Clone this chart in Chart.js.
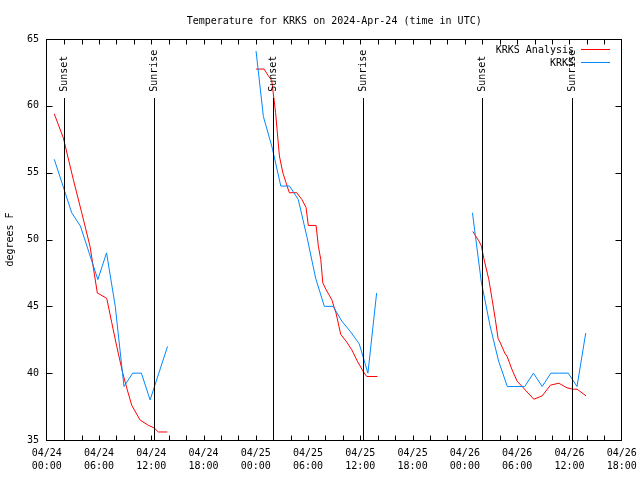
<!DOCTYPE html>
<html>
<head>
<meta charset="utf-8">
<script src="https://cdn.jsdelivr.net/npm/chart.js@4/dist/chart.umd.min.js"></script>
<style>
  html, body { margin: 0; padding: 0; background: #fff; }
  canvas { display: block; }
</style>
</head>
<body>
<canvas id="c" width="640" height="480"></canvas>
<script>
// ---- data (hours since 2024-04-24 00:00 UTC) ----
const redTimes = [0.87, 1.91, 3.05, 4.02, 4.97, 5.81, 6.89, 7.46, 8.04, 8.73, 9.25, 9.76, 10.71, 11.66, 12.35, 12.81, 13.85,
  19,
  24.03, 24.95, 25.44, 25.83, 26.27, 26.71, 27.10, 27.47, 27.85, 28.70, 29.28, 29.77, 30.03, 30.92, 31.18, 31.46, 31.69, 32.07, 32.72, 33.21, 33.75, 34.36, 35.02, 35.66, 36.35, 36.74, 37.96,
  43,
  48.91, 49.60, 49.90, 50.17, 50.75, 51.13, 51.50, 51.81, 52.08, 52.58, 52.85, 53.42, 54.00, 54.57, 55.91, 56.87, 57.82, 58.78, 59.73, 60.42, 60.88, 61.91];
const redValues = [59.4, 57.6, 54.5, 52.0, 49.5, 46.0, 45.6, 43.8, 42.0, 40.0, 38.75, 37.6, 36.5, 36.1, 35.9, 35.6, 35.6,
  null,
  62.75, 62.75, 62.25, 61.9, 59.5, 56.25, 55.0, 54.25, 53.5, 53.5, 53.0, 52.4, 51.05, 51.05, 49.5, 48.5, 46.75, 46.25, 45.5, 44.5, 42.9, 42.4, 41.75, 40.9, 40.1, 39.75, 39.75,
  null,
  50.6, 49.9, 49.5, 48.6, 47.0, 45.5, 44.0, 42.6, 42.25, 41.5, 41.25, 40.25, 39.4, 39.0, 38.05, 38.3, 39.1, 39.25, 38.9, 38.8, 38.8, 38.3];

const blueTimes = [0.87, 1.87, 2.87, 3.87, 4.87, 5.87, 6.87, 7.87, 8.87, 9.87, 10.87, 11.87, 12.87, 13.87,
  19,
  24.03, 24.87, 25.87, 26.87, 27.87, 28.87, 29.87, 30.87, 31.87, 32.87, 33.87, 34.87, 35.87, 36.87, 37.87,
  43,
  48.87, 49.87, 50.87, 51.87, 52.87, 53.87, 54.87, 55.87, 56.87, 57.87, 58.87, 59.87, 60.87, 61.87];
const blueValues = [56.0, 54.0, 52.0, 51.0, 49.0, 47.0, 49.0, 45.0, 39.0, 40.0, 40.0, 38.0, 40.0, 42.0,
  null,
  64.1, 59.2, 56.9, 54.0, 54.0, 53.0, 50.2, 47.1, 45.0, 45.0, 43.9, 43.1, 42.2, 40.0, 46.0,
  null,
  52.0, 46.9, 43.6, 40.9, 39.0, 39.0, 39.0, 40.0, 39.0, 40.0, 40.0, 40.0, 39.0, 43.0];

const sunsetTimes = [1.98, 26.02, 50.02];
const sunriseTimes = [12.37, 36.35, 60.33];

const xTickValues = [0, 6, 12, 18, 24, 30, 36, 42, 48, 54, 60, 66];
const xTickDates = ['04/24', '04/24', '04/24', '04/24', '04/25', '04/25', '04/25', '04/25', '04/26', '04/26', '04/26', '04/26'];
const xTickTimes = ['00:00', '06:00', '12:00', '18:00', '00:00', '06:00', '12:00', '18:00', '00:00', '06:00', '12:00', '18:00'];
const yTickValues = [35, 40, 45, 50, 55, 60, 65];

const RED = '#ff0000';
const BLUE = 'rgb(0,136,255)';
const FONT = '10px "DejaVu Sans Mono"';

const toXY = (ts, vs) => ts.map((t, i) => ({ x: t, y: vs[i] }));

const overlay = {
  id: 'overlay',
  afterDatasetsDraw(chart) {
    const { ctx, chartArea: a, scales: { x, y } } = chart;
    ctx.save();
    ctx.strokeStyle = '#000';
    ctx.lineWidth = 1;
    const L = Math.floor(a.left) + 0.5, R = Math.floor(a.right) + 0.5;
    const T = Math.floor(a.top) + 0.5, B = Math.floor(a.bottom) + 0.5;
    // sunrise / sunset lines
    const lineTop = Math.round(y.getPixelForValue(60.6));
    ctx.beginPath();
    sunsetTimes.concat(sunriseTimes).forEach(t => {
      const px = Math.round(x.getPixelForValue(t)) + 0.5;
      ctx.moveTo(px, lineTop); ctx.lineTo(px, B);
    });
    ctx.stroke();
    // frame
    ctx.strokeRect(L, T, R - L, B - T);
    // ticks
    ctx.beginPath();
    for (let t = 2; t < 66; t += 2) {
      const px = Math.round(x.getPixelForValue(t)) + 0.5;
      ctx.moveTo(px, B); ctx.lineTo(px, B - 5);
      ctx.moveTo(px, T); ctx.lineTo(px, T + 5);
    }
    yTickValues.forEach(v => {
      const py = Math.round(y.getPixelForValue(v)) + 0.5;
      ctx.moveTo(L, py); ctx.lineTo(L + 6, py);
      ctx.moveTo(R, py); ctx.lineTo(R - 6, py);
    });
    ctx.stroke();
    // sun labels
    ctx.fillStyle = '#000';
    ctx.font = FONT;
    const labY = y.getPixelForValue(61.05);
    const drawV = (t, txt) => {
      const px = Math.round(x.getPixelForValue(t)) + 0.5;
      ctx.save();
      ctx.translate(px, labY);
      ctx.rotate(-Math.PI / 2);
      ctx.textAlign = 'left';
      ctx.textBaseline = 'middle';
      ctx.fillText(txt, 0, 0);
      ctx.restore();
    };
    sunsetTimes.forEach(t => drawV(t, 'Sunset'));
    sunriseTimes.forEach(t => drawV(t, 'Sunrise'));
    // legend
    ctx.textAlign = 'right';
    ctx.textBaseline = 'middle';
    ctx.fillText('KRKS Analysis', 574, 50);
    ctx.fillText('KRKS', 574, 63);
    ctx.strokeStyle = RED;
    ctx.beginPath(); ctx.moveTo(581, 49.5); ctx.lineTo(610, 49.5); ctx.stroke();
    ctx.strokeStyle = BLUE;
    ctx.beginPath(); ctx.moveTo(581, 62.5); ctx.lineTo(610, 62.5); ctx.stroke();
    // title
    ctx.textAlign = 'center';
    ctx.textBaseline = 'alphabetic';
    ctx.fillText('Temperature for KRKS on 2024-Apr-24 (time in UTC)', (a.left + a.right) / 2, 24);
    // y axis title
    ctx.save();
    ctx.translate(10, (a.top + a.bottom) / 2);
    ctx.rotate(-Math.PI / 2);
    ctx.textAlign = 'center';
    ctx.textBaseline = 'middle';
    ctx.fillText('degrees F', 0, 0);
    ctx.restore();
    ctx.restore();
  }
};

new Chart(document.getElementById('c'), {
  type: 'scatter',
  data: {
    datasets: [
      { label: 'KRKS', data: toXY(blueTimes, blueValues), borderColor: BLUE, backgroundColor: BLUE,
        showLine: true, pointRadius: 0, borderWidth: 1, tension: 0, spanGaps: false, order: 0 },
      { label: 'KRKS Analysis', data: toXY(redTimes, redValues), borderColor: RED, backgroundColor: RED,
        showLine: true, pointRadius: 0, borderWidth: 1, tension: 0, spanGaps: false, order: 1 }
    ]
  },
  options: {
    responsive: false,
    animation: false,
    devicePixelRatio: 1,
    layout: { padding: { top: 39, right: 18.3, left: 0, bottom: 0 } },
    plugins: { legend: { display: false }, tooltip: { enabled: false }, title: { display: false } },
    scales: {
      x: {
        type: 'linear', min: 0, max: 66,
        afterFit(s) { s.height = 40; s.paddingLeft = 0; s.paddingRight = 0; },
        afterBuildTicks(s) { s.ticks = xTickValues.map(v => ({ value: v })); },
        grid: { display: false, drawTicks: false },
        border: { display: false },
        ticks: {
          autoSkip: false, maxRotation: 0, minRotation: 0, padding: 7, color: '#000',
          font: { family: 'DejaVu Sans Mono', size: 10, lineHeight: 1.3 },
          callback: (v, i) => [xTickDates[i], xTickTimes[i]]
        }
      },
      y: {
        min: 35, max: 65,
        afterFit(s) { s.width = 46.7; s.paddingTop = 0; s.paddingBottom = 0; },
        afterBuildTicks(s) { s.ticks = yTickValues.map(v => ({ value: v })); },
        grid: { display: false, drawTicks: false },
        border: { display: false },
        ticks: {
          padding: 7.7, color: '#000',
          font: { family: 'DejaVu Sans Mono', size: 10 },
          callback: v => String(v)
        }
      }
    }
  },
  plugins: [overlay]
});
</script>
</body>
</html>
